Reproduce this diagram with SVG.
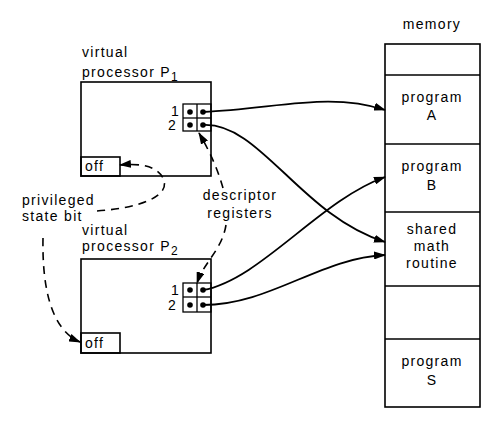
<svg xmlns="http://www.w3.org/2000/svg" width="500" height="437" viewBox="0 0 500 437">
<style>
text{font-family:"Liberation Sans","DejaVu Sans",sans-serif;font-size:14px;letter-spacing:1.3px;fill:#000}
.m{text-anchor:middle}
.box{fill:none;stroke:#000;stroke-width:1.6}
.reg{fill:none;stroke:#000;stroke-width:1.3}
.wire{fill:none;stroke:#000;stroke-width:1.8}
.dash{fill:none;stroke:#000;stroke-width:1.6;stroke-dasharray:8,6}
.dot{fill:#000}
</style>
<defs>
<marker id="ah" viewBox="0 0 12 8" refX="11" refY="4" markerWidth="12" markerHeight="8" markerUnits="userSpaceOnUse" orient="auto">
<path d="M0,0 L12,4 L0,8 Z" fill="#000"/>
</marker>
</defs>
<rect width="500" height="437" fill="#fff"/>

<g id="memory">
<text x="432" y="29" class="m">memory</text>
<rect x="385" y="44" width="95" height="363" class="box"/>
<line x1="385" y1="75" x2="480" y2="75" class="box"/>
<line x1="385" y1="144" x2="480" y2="144" class="box"/>
<line x1="385" y1="212" x2="480" y2="212" class="box"/>
<line x1="385" y1="286" x2="480" y2="286" class="box"/>
<line x1="385" y1="339" x2="480" y2="339" class="box"/>
<text x="432" y="102" class="m">program</text>
<text x="432" y="120" class="m">A</text>
<text x="432" y="171" class="m">program</text>
<text x="432" y="190" class="m">B</text>
<text x="432" y="234" class="m">shared</text>
<text x="432" y="251" class="m">math</text>
<text x="432" y="268" class="m">routine</text>
<text x="432" y="366" class="m">program</text>
<text x="432" y="385" class="m">S</text>
</g>

<g id="p1">
<text x="82" y="57">virtual</text>
<text x="82" y="77">processor P<tspan dy="4" font-size="12">1</tspan></text>
<rect x="81" y="82" width="130" height="94" class="box"/>
<rect x="81" y="157" width="39" height="19" class="box"/>
<text x="85" y="171">off</text>
<rect x="183" y="104" width="28" height="27" class="reg"/>
<line x1="197" y1="104" x2="197" y2="131" class="reg"/>
<line x1="183" y1="118" x2="211" y2="118" class="reg"/>
<text x="171" y="116">1</text>
<text x="168" y="130">2</text>
<circle cx="190" cy="112" r="2.8" class="dot"/>
<circle cx="203" cy="112" r="2.8" class="dot"/>
<circle cx="190" cy="125" r="2.8" class="dot"/>
<circle cx="203" cy="125" r="2.8" class="dot"/>
</g>

<g id="p2">
<text x="82" y="235">virtual</text>
<text x="82" y="251">processor P<tspan dy="4" font-size="12">2</tspan></text>
<rect x="81" y="259" width="130" height="94" class="box"/>
<rect x="81" y="333" width="39" height="20" class="box"/>
<text x="85" y="348">off</text>
<rect x="183" y="283" width="28" height="29" class="reg"/>
<line x1="197" y1="283" x2="197" y2="312" class="reg"/>
<line x1="183" y1="297" x2="211" y2="297" class="reg"/>
<text x="171" y="295">1</text>
<text x="168" y="310">2</text>
<circle cx="190" cy="290" r="2.8" class="dot"/>
<circle cx="203" cy="290" r="2.8" class="dot"/>
<circle cx="190" cy="305" r="2.8" class="dot"/>
<circle cx="203" cy="305" r="2.8" class="dot"/>
</g>

<g id="labels">
<text x="22" y="205">privileged</text>
<text x="22" y="221">state bit</text>
<text x="240" y="200" class="m">descriptor</text>
<text x="240" y="218" class="m">registers</text>
</g>

<g id="connectors">
<path d="M203,112 C 280,108 330,92 385,110" class="wire" marker-end="url(#ah)"/>
<path d="M203,125 C 260,122 300,215 385,242" class="wire" marker-end="url(#ah)"/>
<path d="M203,290 C 260,280 320,200 385,177" class="wire" marker-end="url(#ah)"/>
<path d="M203,305 C 270,305 320,258 385,255" class="wire" marker-end="url(#ah)"/>
<path d="M97,211 C 140,208 172,196 163,178 C 157,166 140,163 120,165" class="dash" marker-end="url(#ah)"/>
<path d="M43,238 C 42,290 52,330 80,342" class="dash" marker-end="url(#ah)"/>
<path d="M223,188 C 218,170 210,152 199,133" class="dash" marker-end="url(#ah)"/>
<path d="M226,225 C 222,250 204,262 197,283" class="dash" marker-end="url(#ah)"/>
</g>
</svg>
